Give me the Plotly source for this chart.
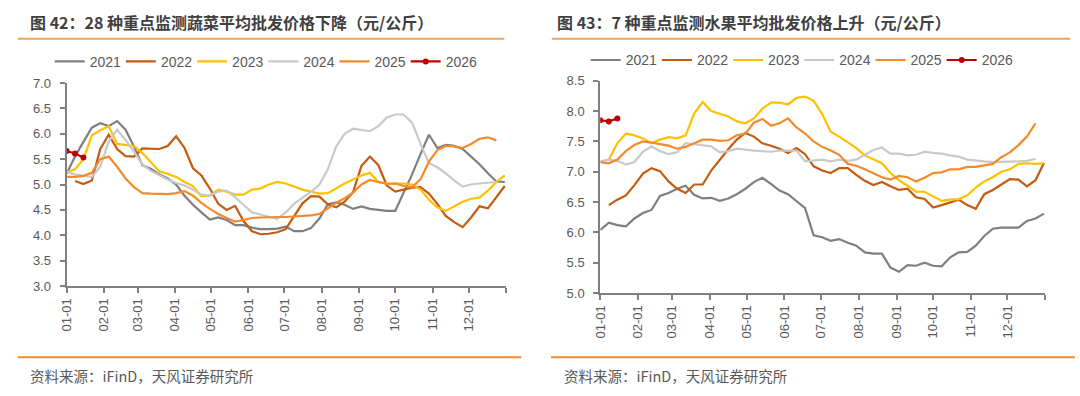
import pandas as pd
import plotly.graph_objects as go

# ---------------- data (weekly observations, first week = 01-01) ----------------
years = ["2021", "2022", "2023", "2024", "2025", "2026"]
month_labels = ["01-01", "02-01", "03-01", "04-01", "05-01", "06-01",
                "07-01", "08-01", "09-01", "10-01", "11-01", "12-01", ""]

# 28 vegetables (元/公斤)
veg_2021 = [5.21, 5.55, 5.84, 6.12, 6.21, 6.15, 6.25, 6.08, 5.75, 5.38, 5.31, 5.20, 5.12, 5.00,
            4.78, 4.60, 4.45, 4.31, 4.35, 4.30, 4.20, 4.20, 4.15, 4.12, 4.12, 4.13, 4.17, 4.08,
            4.08, 4.14, 4.33, 4.61, 4.65, 4.60, 4.52, 4.57, 4.52, 4.50, 4.48, 4.48, 4.84, 5.20,
            5.60, 5.98, 5.72, 5.78, 5.76, 5.70, 5.55, 5.40, 5.22, 5.06, 5.05]
veg_2022 = [None, 5.07, 5.01, 5.08, 5.70, 5.98, 5.70, 5.56, 5.55, 5.71, 5.71, 5.70, 5.76, 5.95,
            5.72, 5.32, 5.18, 4.92, 4.62, 4.50, 4.58, 4.28, 4.08, 4.02, 4.03, 4.06, 4.12, 4.38,
            4.63, 4.77, 4.76, 4.61, 4.55, 4.66, 4.85, 5.37, 5.55, 5.38, 4.98, 4.86, 4.90, 4.94,
            4.95, 4.82, 4.62, 4.38, 4.26, 4.16, 4.35, 4.57, 4.53, 4.75, 4.97]
veg_2023 = [5.24, 5.30, 5.50, 5.97, 6.07, 6.15, 5.80, 5.78, 5.76, 5.62, 5.45, 5.26, 5.21, 5.15,
            5.05, 4.97, 4.77, 4.78, 4.90, 4.86, 4.80, 4.80, 4.90, 4.92, 5.00, 5.05, 5.02, 4.96,
            4.90, 4.86, 4.82, 4.83, 4.93, 5.02, 5.10, 5.18, 5.23, 5.05, 5.02, 5.02, 5.02, 5.00,
            4.90, 4.70, 4.55, 4.48, 4.57, 4.66, 4.72, 4.74, 4.88, 5.05, 5.18]
veg_2024 = [5.25, 5.20, 5.17, 5.15, 5.35, 5.85, 6.08, 5.88, 5.65, 5.40, 5.27, 5.18, 5.10, 5.03,
            4.98, 4.90, 4.80, 4.78, 4.86, 4.88, 4.75, 4.60, 4.45, 4.41, 4.36, 4.32, 4.45, 4.62,
            4.74, 4.85, 5.00, 5.30, 5.75, 6.00, 6.10, 6.07, 6.05, 6.15, 6.32, 6.38, 6.38, 6.22,
            5.80, 5.42, 5.34, 5.22, 5.08, 4.96, 5.00, 5.02, 5.03, 5.05]
veg_2025 = [5.15, 5.15, 5.17, 5.23, 5.50, 5.55, 5.35, 5.12, 4.95, 4.83, 4.82, 4.82, 4.81, 4.83,
            4.87, 4.78, 4.64, 4.52, 4.42, 4.34, 4.27, 4.30, 4.34, 4.35, 4.36, 4.36, 4.36, 4.37,
            4.37, 4.39, 4.42, 4.53, 4.64, 4.73, 4.84, 5.00, 5.09, 5.05, 5.01, 5.02, 4.97, 4.95,
            5.10, 5.45, 5.68, 5.76, 5.75, 5.72, 5.80, 5.90, 5.93, 5.87]
veg_2026 = [5.66, 5.61, 5.53]

# 7 fruits (元/公斤)
fruit_2021 = [6.04, 6.16, 6.12, 6.10, 6.23, 6.32, 6.37, 6.60, 6.65, 6.72, 6.77, 6.62, 6.56, 6.57,
              6.52, 6.56, 6.63, 6.72, 6.83, 6.90, 6.80, 6.69, 6.63, 6.52, 6.40, 5.95, 5.92, 5.86,
              5.89, 5.83, 5.78, 5.67, 5.65, 5.65, 5.42, 5.35, 5.46, 5.45, 5.50, 5.45, 5.44, 5.59,
              5.67, 5.68, 5.78, 5.94, 6.06, 6.08, 6.08, 6.08, 6.19, 6.23, 6.31]
fruit_2022 = [None, 6.45, 6.54, 6.61, 6.78, 6.97, 7.06, 7.01, 6.84, 6.72, 6.65, 6.79, 6.79, 7.02,
              7.20, 7.37, 7.53, 7.64, 7.58, 7.47, 7.43, 7.38, 7.31, 7.39, 7.29, 7.09, 7.02, 6.98,
              7.06, 7.06, 6.95, 6.85, 6.78, 6.83, 6.76, 6.70, 6.72, 6.58, 6.55, 6.41, 6.45, 6.49,
              6.54, 6.45, 6.39, 6.63, 6.70, 6.79, 6.88, 6.87, 6.76, 6.86, 7.15]
fruit_2023 = [None, 7.20, 7.47, 7.63, 7.60, 7.55, 7.47, 7.53, 7.57, 7.55, 7.60, 7.96, 8.15, 8.00,
              7.95, 7.91, 7.83, 7.80, 7.88, 8.04, 8.14, 8.14, 8.11, 8.22, 8.24, 8.17, 7.95, 7.66,
              7.58, 7.49, 7.39, 7.27, 7.20, 7.14, 6.98, 6.86, 6.77, 6.67, 6.67, 6.60, 6.52, 6.54,
              6.55, 6.61, 6.74, 6.84, 6.91, 7.00, 7.04, 7.13, 7.14, 7.13, 7.14]
fruit_2024 = [7.17, 7.20, 7.18, 7.12, 7.16, 7.33, 7.42, 7.34, 7.29, 7.32, 7.47, 7.45, 7.43, 7.42,
              7.32, 7.34, 7.38, 7.36, 7.35, 7.34, 7.33, 7.35, 7.35, 7.35, 7.17, 7.18, 7.20, 7.17,
              7.20, 7.18, 7.20, 7.28, 7.36, 7.40, 7.30, 7.30, 7.27, 7.28, 7.33, 7.31, 7.30, 7.27,
              7.25, 7.20, 7.18, 7.17, 7.16, 7.16, 7.17, 7.17, 7.18, 7.21]
fruit_2025 = [7.16, 7.14, 7.20, 7.34, 7.44, 7.50, 7.48, 7.46, 7.43, 7.38, 7.41, 7.47, 7.53, 7.53,
              7.51, 7.52, 7.60, 7.63, 7.81, 7.87, 7.76, 7.80, 7.88, 7.73, 7.63, 7.50, 7.41, 7.35,
              7.28, 7.13, 7.10, 7.04, 6.97, 6.91, 6.87, 6.93, 6.91, 6.84, 6.90, 6.98, 6.99, 7.04,
              7.04, 7.08, 7.08, 7.10, 7.13, 7.24, 7.32, 7.44, 7.58, 7.80]
fruit_2026 = [7.85, 7.83, 7.88]

veg_series = [veg_2021, veg_2022, veg_2023, veg_2024, veg_2025, veg_2026]
fruit_series = [fruit_2021, fruit_2022, fruit_2023, fruit_2024, fruit_2025, fruit_2026]

colors = ["#7F7F7F", "#C55A11", "#FFC000", "#C9C9C9", "#F58A2C", "#C00000"]

base = pd.Timestamp("2021-01-01")


def week_dates(vals):
    return [base + pd.Timedelta(days=7 * i) for i in range(len(vals))]


tick_vals = [pd.Timestamp(f"2021-{m:02d}-01") for m in range(1, 13)] + [pd.Timestamp("2022-01-01")]

fig = go.Figure()

for series, xa, ya, lg in [(veg_series, "x", "y", "legend"), (fruit_series, "x2", "y2", "legend2")]:
    for name, vals, col in zip(years, series, colors):
        is_last = name == "2026"
        fig.add_trace(go.Scatter(
            x=week_dates(vals), y=vals, name=name, xaxis=xa, yaxis=ya, legend=lg,
            mode="lines+markers" if is_last else "lines",
            line=dict(color=col, width=2.2),
            marker=dict(size=6, color=col) if is_last else None,
            connectgaps=False,
        ))

axis_color = "#808080"
tick_font = dict(family="Liberation Sans, Arial, sans-serif", size=13, color="#595959")

xcommon = dict(
    type="date", range=[tick_vals[0], tick_vals[-1]], tickmode="array",
    tickvals=tick_vals, ticktext=month_labels, tickangle=-90,
    showline=True, linecolor=axis_color, linewidth=2, ticks="outside", ticklen=5,
    tickcolor=axis_color, tickwidth=1.5, showgrid=False, zeroline=False, tickfont=tick_font,
)
ycommon = dict(
    showline=True, linecolor=axis_color, linewidth=2, ticks="outside", ticklen=5,
    tickcolor=axis_color, tickwidth=1.5, showgrid=False, zeroline=False, tickfont=tick_font,
    tickformat=".1f", dtick=0.5, ticklabelstandoff=6,
)

W, H = 1080, 396
legend_common = dict(orientation="h", xanchor="left", yanchor="middle",
                     font=dict(family="Liberation Sans, Arial, sans-serif", size=14, color="#595959"),
                     bgcolor="rgba(0,0,0,0)", itemwidth=30, entrywidth=26.2, traceorder="normal")

fig.update_layout(
    width=W, height=H, margin=dict(l=0, r=0, t=0, b=0),
    paper_bgcolor="white", plot_bgcolor="white",
    xaxis=dict(domain=[59 / W, 501.7 / W], anchor="y", **xcommon),
    yaxis=dict(domain=[(H - 290) / H, (H - 79) / H], anchor="x", range=[3, 7], **ycommon),
    xaxis2=dict(domain=[596.7 / W, 1045 / W], anchor="y2", **xcommon),
    yaxis2=dict(domain=[(H - 297.3) / H, (H - 76.7) / H], anchor="x2", range=[5, 8.5], **ycommon),
    legend=dict(x=42 / W, y=(H - 57) / H, **legend_common),
    legend2=dict(x=582 / W, y=(H - 55.5) / H, **legend_common),
    showlegend=True,
)

title_font = dict(family="Noto Sans CJK SC, sans-serif", size=16, color="#404040")
src_font = dict(family="Noto Sans CJK SC, sans-serif", size=14.5, color="#595959")

annotations = [
    dict(text="<b>图 42：28 种重点监测蔬菜平均批发价格下降（元/公斤）</b>", x=20 / W, y=(H - 16) / H,
         xanchor="left", yanchor="middle", font=title_font),
    dict(text="<b>图 43：7 种重点监测水果平均批发价格上升（元/公斤）</b>", x=551 / W, y=(H - 16) / H,
         xanchor="left", yanchor="middle", font=title_font),
    dict(text="资料来源：iFinD，天风证券研究所", x=20 / W, y=(H - 383) / H,
         xanchor="left", yanchor="middle", font=src_font),
    dict(text="资料来源：iFinD，天风证券研究所", x=558 / W, y=(H - 383) / H,
         xanchor="left", yanchor="middle", font=src_font),
]
for a in annotations:
    a.update(xref="paper", yref="paper", showarrow=False)
fig.update_layout(annotations=annotations)

rule = dict(type="line", xref="paper", yref="paper", line=dict(color="#F4A25A", width=2))
bottom_rule = dict(type="line", xref="paper", yref="paper", line=dict(color="#F7892B", width=2))
fig.update_layout(shapes=[
    dict(x0=10 / W, x1=500 / W, y0=(H - 33) / H, y1=(H - 33) / H, **rule),
    dict(x0=548 / W, x1=1070 / W, y0=(H - 33) / H, y1=(H - 33) / H, **rule),
    dict(x0=10 / W, x1=517 / W, y0=(H - 364) / H, y1=(H - 364) / H, **bottom_rule),
    dict(x0=547 / W, x1=1075 / W, y0=(H - 364) / H, y1=(H - 364) / H, **bottom_rule),
])

fig.write_html("out.html", config={"displayModeBar": False},
               post_script="document.body.style.margin='0px';")
